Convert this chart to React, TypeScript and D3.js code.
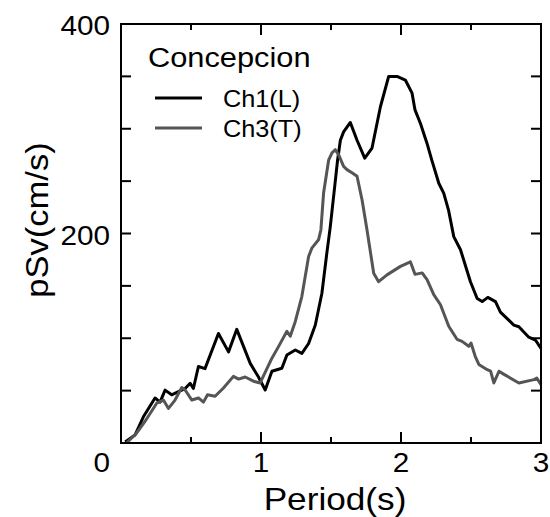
import React from "react";
import * as d3 from "d3";

const ch1Period = [0.03, 0.1, 0.16, 0.243, 0.279, 0.315, 0.362, 0.41, 0.458, 0.494, 0.517, 0.553, 0.6, 0.696, 0.768, 0.827, 0.923, 0.982, 1.03, 1.078, 1.149, 1.185, 1.245, 1.292, 1.34, 1.388, 1.435, 1.47, 1.495, 1.547, 1.567, 1.59, 1.638, 1.686, 1.741, 1.793, 1.853, 1.912, 1.972, 2.031, 2.079, 2.1, 2.139, 2.186, 2.22, 2.27, 2.305, 2.34, 2.377, 2.425, 2.496, 2.544, 2.58, 2.62, 2.675, 2.71, 2.806, 2.842, 2.913, 2.96, 3.0];
const ch1Values = [1, 7.6, 25, 43, 39, 50.5, 46, 49, 52, 57, 52, 73, 71, 104.6, 87, 108.5, 76, 63, 50.6, 68.5, 71.3, 84, 88.8, 85.5, 95, 112.6, 143, 181, 206.6, 270, 289, 297, 306, 289, 272, 281.6, 321, 350, 350, 346.5, 334, 318, 305, 286, 270, 248, 238.5, 222, 197, 184.5, 154, 138, 135, 139, 135, 125, 112.6, 111, 101, 98.3, 90.4];

const ch3Period = [0.04, 0.11, 0.17, 0.255, 0.303, 0.339, 0.386, 0.434, 0.458, 0.506, 0.553, 0.589, 0.618, 0.672, 0.732, 0.803, 0.84, 0.887, 0.946, 0.994, 1.078, 1.125, 1.185, 1.209, 1.245, 1.292, 1.34, 1.363, 1.411, 1.428, 1.447, 1.483, 1.507, 1.53, 1.555, 1.59, 1.614, 1.65, 1.686, 1.722, 1.757, 1.805, 1.84, 1.9, 1.996, 2.067, 2.1, 2.151, 2.186, 2.234, 2.282, 2.341, 2.4, 2.436, 2.484, 2.5, 2.53, 2.556, 2.616, 2.64, 2.663, 2.7, 2.73, 2.842, 2.95, 2.97, 3.0];
const ch3Values = [0, 9.3, 20.3, 38, 41, 33, 41, 53, 50.6, 41, 43, 39, 46, 44.6, 52.5, 63.6, 61, 63, 59, 57.3, 81, 92, 106.6, 102, 116, 140, 178, 186, 194, 203.6, 238.6, 270, 277, 280, 275, 264, 261, 258, 254.6, 232, 203.6, 162, 154, 160.5, 168.6, 173, 161, 162.4, 156, 141.7, 132, 111.4, 99, 97, 92.3, 95.5, 82.8, 75, 70, 68.6, 57.3, 68.5, 66, 57.3, 60.5, 62, 55.7];

const xTickValues = [0, 1, 2, 3];
const xMinorTicks = [0.5, 1.5, 2.5];
const yTickLabelValues = [200, 400];
const yTickValues = [0, 50, 100, 150, 200, 250, 300, 350, 400];

const seriesNames = ["Ch1(L)", "Ch3(T)"];
const seriesColors = ["#000000", "#555555"];
const stationName = "Concepcion";

const FONT = "'Liberation Sans', Arial, Helvetica, sans-serif";
const SX = 1.1;

export default function App() {
  const left = 121, right = 541, top = 24, bottom = 443;
  const x = d3.scaleLinear().domain([0, 3]).range([left, right]);
  const y = d3.scaleLinear().domain([0, 400]).range([bottom, top]);

  const line = d3
    .line<[number, number]>()
    .x((d) => x(d[0]))
    .y((d) => y(d[1]));

  const s1 = ch1Period.map((t, i) => [t, ch1Values[i]] as [number, number]);
  const s3 = ch3Period.map((t, i) => [t, ch3Values[i]] as [number, number]);

  const T = (props: any) => {
    const { x: tx, y: ty, size, anchor, children } = props;
    return (
      <text
        transform={`translate(${tx},${ty}) scale(${SX},1)`}
        fontSize={size}
        textAnchor={anchor || "start"}
        fontFamily={FONT}
        fill="#000"
      >
        {children}
      </text>
    );
  };

  return (
    <svg
      width={550}
      height={517}
      style={{ position: "absolute", left: 0, top: 0, background: "#fff" }}
    >
      <rect x={0} y={0} width={550} height={517} fill="#fff" />
      {/* series */}
      <path d={line(s1) || ""} fill="none" stroke={seriesColors[0]} strokeWidth={3} strokeLinejoin="round" />
      <path d={line(s3) || ""} fill="none" stroke={seriesColors[1]} strokeWidth={3} strokeLinejoin="round" />

      {/* frame */}
      <rect x={left} y={top} width={right - left} height={bottom - top} fill="none" stroke="#000" strokeWidth={2} />

      {/* x ticks */}
      {xTickValues.map((v) => (
        <g key={"xt" + v}>
          <line x1={x(v)} x2={x(v)} y1={bottom} y2={bottom - 11} stroke="#000" strokeWidth={2} />
          <line x1={x(v)} x2={x(v)} y1={top} y2={top + 11} stroke="#000" strokeWidth={2} />
        </g>
      ))}
      {xMinorTicks.map((v) => (
        <g key={"xm" + v}>
          <line x1={x(v)} x2={x(v)} y1={bottom} y2={bottom - 6} stroke="#000" strokeWidth={2} />
          <line x1={x(v)} x2={x(v)} y1={top} y2={top + 6} stroke="#000" strokeWidth={2} />
        </g>
      ))}
      {/* y ticks */}
      {yTickValues.map((v) => (
        <g key={"yt" + v}>
          <line x1={left} x2={left + 10} y1={y(v)} y2={y(v)} stroke="#000" strokeWidth={2} />
          <line x1={right} x2={right - 10} y1={y(v)} y2={y(v)} stroke="#000" strokeWidth={2} />
        </g>
      ))}

      {/* x tick labels */}
      {xTickValues.map((v) =>
        v === 0 ? (
          <T key={"xl" + v} x={left - 11} y={472} size={27} anchor="end">
            {String(v)}
          </T>
        ) : (
          <T key={"xl" + v} x={x(v)} y={472} size={27} anchor="middle">
            {String(v)}
          </T>
        )
      )}
      {/* y tick labels */}
      {yTickLabelValues.map((v) => (
        <T key={"yl" + v} x={left - 11} y={y(v) + 11} size={27} anchor="end">
          {String(v)}
        </T>
      ))}

      {/* axis titles */}
      <T x={(left + right) / 2 + 4} y={510} size={32} anchor="middle">
        Period(s)
      </T>
      <text
        transform={`translate(48,220) rotate(-90) scale(1.08,1)`}
        fontSize={32}
        textAnchor="middle"
        fontFamily={FONT}
        fill="#000"
      >
        pSv(cm/s)
      </text>

      {/* legend */}
      <T x={148} y={67} size={28}>
        {stationName}
      </T>
      {seriesNames.map((name, i) => (
        <g key={name}>
          <line x1={155} x2={202} y1={98 + i * 30} y2={98 + i * 30} stroke={seriesColors[i]} strokeWidth={3} />
          <T x={223} y={107 + i * 30} size={23}>
            {name}
          </T>
        </g>
      ))}
    </svg>
  );
}
